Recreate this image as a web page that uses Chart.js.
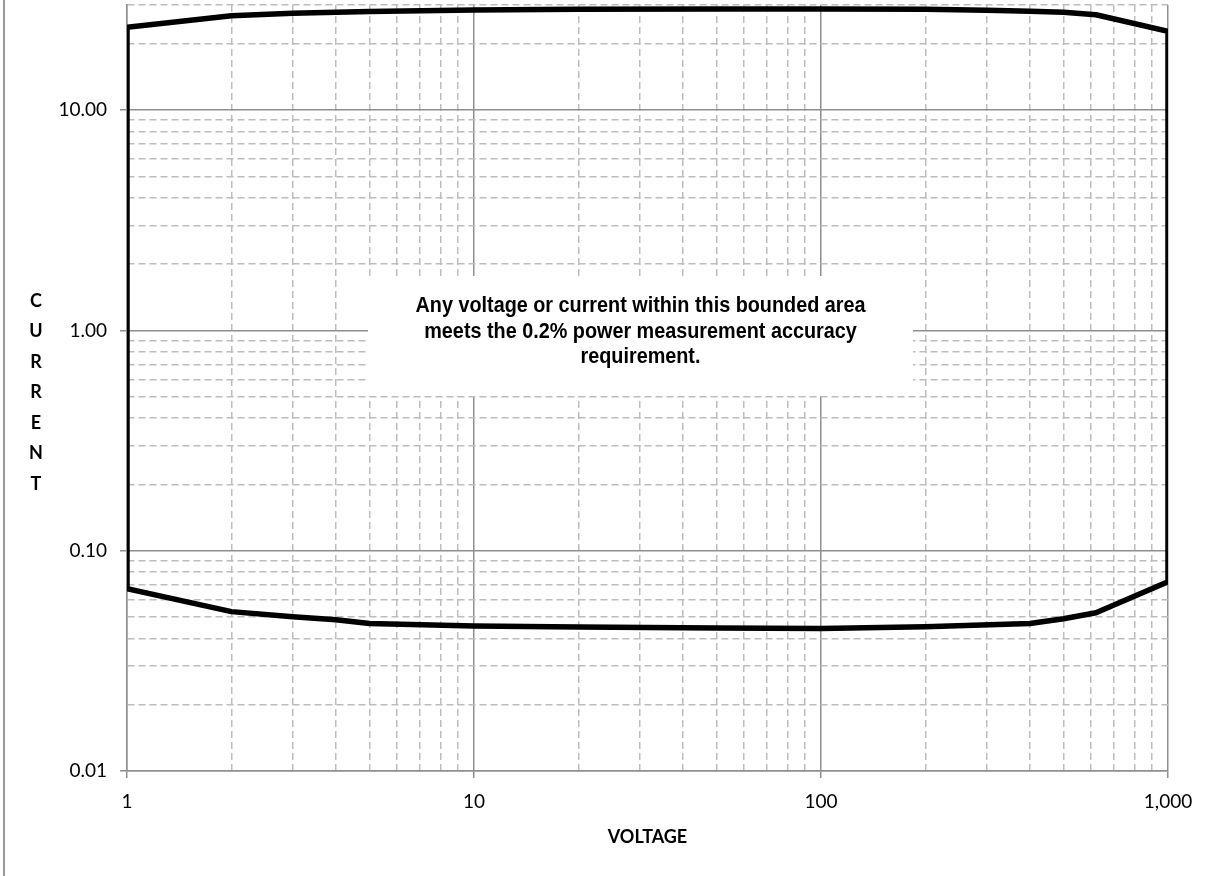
<!DOCTYPE html>
<html>
<head>
<meta charset="utf-8">
<script src="https://cdn.jsdelivr.net/npm/chart.js@4/dist/chart.umd.min.js"></script>
<style>
  html, body { margin: 0; padding: 0; background: #fff; }
  #wrap { width: 1208px; height: 876px; position: relative; }
</style>
</head>
<body>
<div id="wrap"><canvas id="chart" width="1208" height="876"></canvas></div>
<script>
// boundary of the 0.2% accuracy area (voltage in V, current in A)
var topVolts = [1, 2, 3, 4, 5, 10, 20, 50, 100, 200, 300, 400, 500, 620, 1000];
var topAmps = [23.8, 26.8, 27.5, 27.8, 28.0, 28.5, 28.7, 28.8, 28.8, 28.7, 28.4, 28.1, 27.8, 27.1, 22.8];
var bottomVolts = [1, 2, 3, 4, 5, 10, 20, 50, 100, 200, 400, 500, 620, 1000];
var bottomAmps = [0.0672, 0.0529, 0.0502, 0.0486, 0.0467, 0.0455, 0.0450, 0.0446, 0.0443, 0.0452, 0.0467, 0.0491, 0.0523, 0.0723];

var xMajor = [1, 10, 100, 1000];
var xLabels = ['1', '10', '100', '1,000'];
var yMajor = [0.01, 0.1, 1, 10];
var yLabels = ['0.01', '0.10', '1.00', '10.00'];
var yMax = 30;
var minorSteps = [2, 3, 4, 5, 6, 7, 8, 9];

var noteLines = [
	'Any voltage or current within this bounded area',
	'meets the 0.2% power measurement accuracy',
	'requirement.'
];
var yTitle = 'CURRENT';
var xTitle = 'VOLTAGE';

// closed outline: top edge left->right, bottom edge right->left
var outline = [];
for (var i = 0; i < topVolts.length; i++) outline.push({x: topVolts[i], y: topAmps[i]});
for (var j = bottomVolts.length - 1; j >= 0; j--) outline.push({x: bottomVolts[j], y: bottomAmps[j]});
outline.push({x: topVolts[0], y: topAmps[0]});

function logTicks(majors, max) {
	var t = [];
	for (var k = 0; k < majors.length; k++) {
		t.push({value: majors[k]});
		for (var m = 0; m < minorSteps.length; m++) {
			var v = Number((majors[k] * minorSteps[m]).toPrecision(6));
			if (v > max) break;
			t.push({value: v});
		}
	}
	return t.filter(function (o) { return o.value <= max; });
}

function majorIndex(list, v) {
	for (var i = 0; i < list.length; i++) {
		if (Math.abs(v / list[i] - 1) < 1e-6) return i;
	}
	return -1;
}

var MAJOR = '#8f8f8f';
var MINOR = '#bdbdbd';
var FONT = 'Lato, "Open Sans", sans-serif';

function gridOpts(majors) {
	return {
		color: function (c) { return c.tick && majorIndex(majors, c.tick.value) >= 0 ? MAJOR : MINOR; },
		lineWidth: 1.5,
		tickLength: 7,
		tickWidth: 1.5,
		tickColor: function (c) { return c.tick && majorIndex(majors, c.tick.value) >= 0 ? MAJOR : 'rgba(0,0,0,0)'; }
	};
}

function borderOpts(majors) {
	return {
		display: true,
		color: MAJOR,
		width: 1.5,
		dash: function (c) { return c.tick && majorIndex(majors, c.tick.value) < 0 ? [7, 4] : []; }
	};
}

var extras = {
	id: 'extras',
	beforeDatasetsDraw: function (chart) {
		var ctx = chart.ctx;
		// white box behind the note
		var bx = 368, by = 276, bw = 545, bh = 120;
		ctx.save();
		ctx.fillStyle = '#fff';
		ctx.fillRect(bx, by, bw, bh);
		ctx.fillStyle = '#000';
		ctx.font = 'bold 22px "Liberation Sans Narrow", "Arial Narrow", sans-serif';
		ctx.textAlign = 'center';
		ctx.textBaseline = 'middle';
		ctx.translate(bx + bw / 2, 0);
		ctx.scale(0.9, 1);
		for (var i = 0; i < noteLines.length; i++) {
			ctx.fillText(noteLines[i], 0, 306 + i * 25.5);
		}
		ctx.restore();
	},
	afterDraw: function (chart) {
		var ctx = chart.ctx, a = chart.chartArea;
		ctx.save();
		// outer frame left edge
		ctx.strokeStyle = '#9a9a9a';
		ctx.lineWidth = 2;
		ctx.beginPath();
		ctx.moveTo(4, 0);
		ctx.lineTo(4, chart.height);
		ctx.stroke();
		ctx.fillStyle = '#000';
		ctx.font = 'bold 18px ' + FONT;
		ctx.textAlign = 'center';
		ctx.textBaseline = 'middle';
		for (var i = 0; i < yTitle.length; i++) {
			ctx.fillText(yTitle[i], 36, 301 + i * 30.5);
		}
		ctx.fillText(xTitle, (a.left + a.right) / 2, 837);
		ctx.restore();
	}
};

var ctx = document.getElementById('chart').getContext('2d');
var chart = new Chart(ctx, {
	type: 'scatter',
	data: {
		datasets: [{
			label: 'Accuracy boundary',
			data: outline,
			showLine: true,
			borderColor: '#000',
			borderWidth: 5.5,
			borderJoinStyle: 'round',
			borderCapStyle: 'round',
			pointRadius: 0,
			tension: 0
		}]
	},
	options: {
		responsive: false,
		animation: false,
		layout: { padding: { left: 0, top: 5, right: 40, bottom: 0 } },
		plugins: {
			legend: { display: false },
			tooltip: { enabled: false }
		},
		scales: {
			x: {
				type: 'logarithmic',
				min: 1,
				max: 1000,
				afterBuildTicks: function (s) { s.ticks = logTicks(xMajor, 1000); },
				afterFit: function (s) { s.height = 105; s.paddingLeft = 0; s.paddingRight = 0; },
				ticks: {
					autoSkip: false,
					maxRotation: 0,
					padding: 12,
					color: '#000',
					font: { family: FONT, size: 19 },
					callback: function (v) {
						var k = majorIndex(xMajor, v);
						return k >= 0 ? xLabels[k] : '';
					}
				},
				grid: gridOpts(xMajor),
				border: borderOpts(xMajor)
			},
			y: {
				type: 'logarithmic',
				min: 0.01,
				max: yMax,
				afterBuildTicks: function (s) { s.ticks = logTicks(yMajor, yMax); },
				afterFit: function (s) { s.width = 127; s.paddingTop = 0; s.paddingBottom = 0; },
				ticks: {
					autoSkip: false,
					padding: 13,
					color: '#000',
					font: { family: FONT, size: 19 },
					callback: function (v) {
						var k = majorIndex(yMajor, v);
						return k >= 0 ? yLabels[k] : '';
					}
				},
				grid: gridOpts(yMajor),
				border: borderOpts(yMajor)
			}
		}
	},
	plugins: [extras]
});
</script>
</body>
</html>
